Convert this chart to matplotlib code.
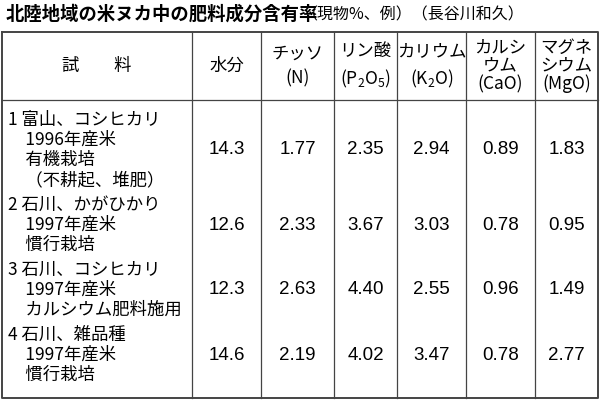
import matplotlib
matplotlib.use('Agg')
import matplotlib.pyplot as plt

plt.rcParams['font.family'] = ['Noto Sans CJK JP', 'DejaVu Sans']
plt.rcParams['mathtext.fontset'] = 'custom'
plt.rcParams['mathtext.rm'] = 'Noto Sans CJK JP'

# data
title_bold = '北陸地域の米ヌカ中の肥料成分含有率'
title_note = '（現物%、例）（長谷川和久）'
headers = ['試　　料', '水分', 'チッソ\n(N)', 'リン酸\n(P$_2$O$_5$)', 'カリウム\n(K$_2$O)',
           'カルシ\nウム\n(CaO)', 'マグネ\nシウム\n(MgO)']
samples = [
    ['1 富山、コシヒカリ', '　1996年産米', '　有機栽培', '　（不耕起、堆肥）'],
    ['2 石川、かがひかり', '　1997年産米', '　慣行栽培'],
    ['3 石川、コシヒカリ', '　1997年産米', '　カルシウム肥料施用'],
    ['4 石川、雑品種', '　1997年産米', '　慣行栽培'],
]
water = ['14.3', '12.6', '12.3', '14.6']
nitrogen = ['1.77', '2.33', '2.63', '2.19']
phosphate = ['2.35', '3.67', '4.40', '4.02']
potassium = ['2.94', '3.03', '2.55', '3.47']
calcium = ['0.89', '0.78', '0.96', '0.78']
magnesium = ['1.83', '0.95', '1.49', '2.77']

# layout (pixels)
col_x = [2, 192, 261, 334, 397, 466, 535, 598]
top, head_bottom, bottom = 32, 100, 398
row_y = [150, 225, 290, 355]

fig = plt.figure(figsize=(6, 4), dpi=100)
ax = fig.add_axes([0, 0, 1, 1])
ax.set_xlim(0, 600)
ax.set_ylim(400, 0)
ax.axis('off')

ax.text(6, 14, title_bold, fontsize=13.2, fontweight='bold', va='center', ha='left')
ax.text(302, 15, title_note, fontsize=11.5, va='center', ha='left')

lc = '#444444'
ax.plot([col_x[0], col_x[-1], col_x[-1], col_x[0], col_x[0]],
        [top, top, bottom, bottom, top], color=lc, lw=1.4)
ax.plot([col_x[0], col_x[-1]], [head_bottom, head_bottom], color=lc, lw=0.9)
for x in col_x[1:-1]:
    ax.plot([x, x], [top, bottom], color=lc, lw=0.9)

for i, h in enumerate(headers):
    cx = (col_x[i] + col_x[i + 1]) / 2
    ls = 1.5 if h.count('\n') == 1 else 1.0
    ax.text(cx, (top + head_bottom) / 2, h, fontsize=12.5, ha='center', va='center',
            linespacing=ls)

values = [water, nitrogen, phosphate, potassium, calcium, magnesium]
for r, y in enumerate(row_y):
    lines = samples[r]
    n = len(lines)
    for k, line in enumerate(lines):
        ax.text(8, y + (k - (n - 1) / 2) * 20, line, fontsize=12.5, ha='left', va='center')
    for c, col in enumerate(values):
        cx = (col_x[c + 1] + col_x[c + 2]) / 2
        ax.text(cx, y, col[r], fontsize=13.5, ha='center', va='center',
                family=['Liberation Sans', 'DejaVu Sans'])

fig.savefig('out.png', dpi=100, facecolor='white')
